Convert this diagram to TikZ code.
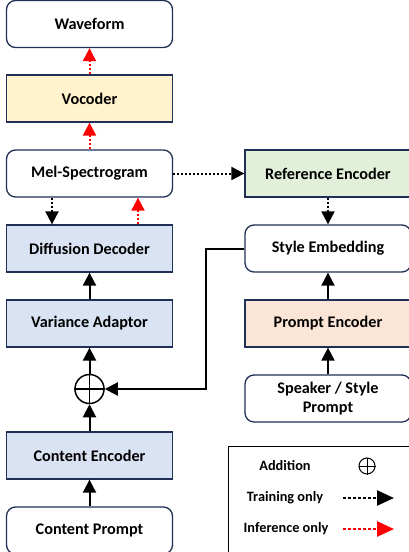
\documentclass[tikz,border=0pt]{standalone}
\usepackage{fontspec}
\setmainfont{Carlito}
\usetikzlibrary{arrows.meta,positioning}
\definecolor{bordc}{HTML}{1F2F56}
\definecolor{fyellow}{HTML}{FFF2CC}
\definecolor{fblue}{HTML}{DAE3F3}
\definecolor{fgreen}{HTML}{E2F0D9}
\definecolor{forange}{HTML}{FBE5D6}
\definecolor{ired}{HTML}{FF0000}
\tikzset{
  blk/.style={draw=bordc, line width=1.3pt, minimum width=166pt, minimum height=47pt, inner sep=2pt, align=center,
    font=\fontsize{16.2}{19}\selectfont\bfseries},
  rblk/.style={blk, rounded corners=9pt, fill=white},
  sarr/.style={line width=2pt, -{Triangle[length=13pt,width=13pt]}},
  tarr/.style={line width=2pt, dash pattern=on 2pt off 2pt, -{Triangle[length=13pt,width=13pt]}},
  iarr/.style={tarr, draw=ired, -{Triangle[length=13pt,width=13pt,fill=ired]}},
  ltarr/.style={line width=2.5pt, dash pattern=on 2.5pt off 2.5pt, -{Triangle[length=17pt,width=15pt]}},
  liarr/.style={ltarr, draw=ired, -{Triangle[length=17pt,width=15pt,fill=ired]}},
  legtxt/.style={font=\fontsize{14.3}{17}\selectfont\bfseries},
}
\begin{document}
\begin{tikzpicture}[x=1pt,y=-1pt]
\useasboundingbox (0,0) rectangle (409,552);
\clip (0,0) rectangle (409,552);
% left column
\node[rblk] (wave) at (89.5,24) {Waveform};
\node[blk, fill=fyellow] (voc) at (89.5,98.5) {Vocoder};
\node[rblk] (mel) at (89.5,173.5) {Mel-Spectrogram};
\node[blk, fill=fblue] (diff) at (89.5,248.5) {Diffusion Decoder};
\node[blk, fill=fblue] (var) at (89.5,323.5) {Variance Adaptor};
\node[draw, circle, line width=1.5pt, minimum size=29pt, inner sep=0pt] (plus) at (89.5,389) {};
\draw[line width=1.5pt] (plus.north) -- (plus.south) (plus.west) -- (plus.east);
\node[blk, fill=fblue] (cenc) at (89.5,455.5) {Content Encoder};
\node[rblk] (cprompt) at (89.5,530.5) {Content Prompt};
% right column
\node[blk, fill=fgreen] (ref) at (328,173.5) {Reference Encoder};
\node[rblk] (style) at (328,248.5) {Style Embedding};
\node[blk, fill=forange] (penc) at (328,323.5) {Prompt Encoder};
\node[rblk] (spk) at (328,398.5) {Speaker / Style\\Prompt};
% connectors
\draw[iarr] (voc.north) -- (wave.south);
\draw[iarr] (mel.north) -- (voc.south);
\draw[tarr] ([xshift=-37.5pt]mel.south) -- ([xshift=-37.5pt]diff.north);
\draw[iarr] ([xshift=48.5pt]diff.north) -- ([xshift=48.5pt]mel.south);
\draw[sarr] (var.north) -- (diff.south);
\draw[sarr] (plus.north) -- (var.south);
\draw[sarr] (cenc.north) -- (plus.south);
\draw[sarr] (cprompt.north) -- (cenc.south);
\draw[tarr] (mel.east) -- (ref.west);
\draw[tarr] (ref.south) -- (style.north);
\draw[sarr] (penc.north) -- (style.south);
\draw[sarr] (spk.north) -- (penc.south);
\draw[sarr] (style.west) -- ++(-38,0) |- (plus.east);
% legend
\node[draw, line width=1pt, minimum width=190pt, minimum height=120pt, anchor=north west] (leg) at (228,446) {};
\node[legtxt] (la) at (285,466) {Addition};
\node[legtxt] (lt) at (285,498) {Training only};
\node[legtxt] (li) at (286,529) {Inference only};
\node[draw, circle, line width=1pt, minimum size=16pt, inner sep=0pt] (lplus) at (367,466) {};
\draw[line width=1pt] (lplus.north) -- (lplus.south) (lplus.west) -- (lplus.east);
\coordinate (lt1) at (343,498);
\coordinate (lt2) at (394,498);
\coordinate (li1) at (343,529);
\coordinate (li2) at (394,529);
\draw[ltarr] (lt1) -- (lt2);
\draw[liarr] (li1) -- (li2);
\end{tikzpicture}
\end{document}
